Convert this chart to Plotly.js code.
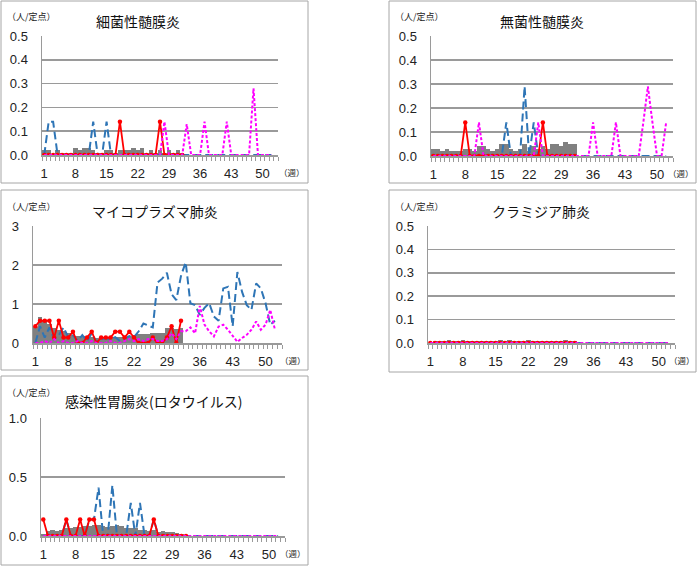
<!DOCTYPE html>
<html>
<head>
<meta charset="utf-8">
<script src="https://cdn.plot.ly/plotly-3.0.1.min.js"></script>
<style>
  html, body { margin: 0; padding: 0; background: #fff; }
  #chart { width: 698px; height: 567px; }
</style>
</head>
<body>
<div id="chart"></div>
<script>
const weeks = [1,2,3,4,5,6,7,8,9,10,11,12,13,14,15,16,17,18,19,20,21,22,23,24,25,26,
  27,28,29,30,31,32,33,34,35,36,37,38,39,40,41,42,43,44,45,46,47,48,49,50,51,52];
const xTicks = [1, 8, 15, 22, 29, 36, 43, 50];

// 細菌性髄膜炎
const bactBars = [0.02,0.02,0,0.02,0.01,0.01,0.01,0.03,0.02,0.03,0.03,0.02,0.01,0.01,0.02,0.02,
  0.01,0.02,0.02,0.02,0.03,0.02,0.03,0.01,0.02,0.01,0.02,0.01,0.02,0.01,0.02,0.01];
const bactRed = [0,0,0,0,0,0,0,0,0,0,0,0,0,0,0,0,0,0.14,0,0,0,0,0,0,0,0,0.14,0,0,0,0,0];
const bactBlue = [0,0.14,0.14,0,0,0,0,0,0,0,0,0.14,0,0,0.14,0,0,0,0,0,0,0,0,0,0,0,
  0,0,0,0,0,0,0,0,0,0,0,0,0,0,0,0,0,0,0,0,0,0,0,0,0,0];
const bactPink = [0,0,0,0,0,0,0,0,0,0,0,0,0,0,0,0,0,0,0,0,0,0,0,0,0,0,
  0,0.14,0,0,0,0,0.13,0,0,0,0.14,0,0,0,0,0.14,0,0,0,0,0,0.28,0,0,0,0];

// 無菌性髄膜炎
const asepBars = [0.03,0.03,0.02,0.03,0.02,0.02,0.02,0.03,0.03,0.02,0.04,0.04,0.03,0.02,0.03,0.05,
  0.05,0.03,0.02,0.03,0.05,0.02,0.04,0.03,0.04,0.03,0.05,0.05,0.04,0.06,0.05,0.05];
const asepRed = [0,0,0,0,0,0,0,0.14,0,0,0,0,0,0,0,0,0,0,0,0,0,0,0,0,0.14,0,0,0,0,0,0,0];
const asepBlue = [0,0,0,0,0,0,0,0,0,0,0,0,0,0,0,0,0.14,0,0,0,0.29,0,0.14,0,0,0,
  0,0,0,0,0,0,0,0,0,0,0,0,0,0,0,0,0,0,0,0,0,0,0,0,0,0];
const asepPink = [0,0,0,0,0,0,0,0,0,0,0.14,0,0,0,0,0,0,0,0,0,0,0,0,0.14,0,0,
  0,0,0,0,0,0,0,0,0,0.14,0,0,0,0,0.14,0,0,0,0,0,0.14,0.29,0.14,0,0,0.14];

// マイコプラズマ肺炎
const mycoBars = [0.42,0.66,0.6,0.5,0.38,0.34,0.3,0.25,0.21,0.17,0.19,0.15,0.15,0.13,0.15,0.15,
  0.15,0.16,0.15,0.15,0.19,0.21,0.22,0.22,0.22,0.26,0.26,0.26,0.38,0.38,0.36,0.39];
const mycoRed = [0.43,0.57,0.57,0.57,0.14,0.57,0.14,0.14,0.29,0,0,0.14,0.29,0,0.14,0.14,
  0.14,0.29,0.29,0.14,0.29,0.14,0,0,0,0.14,0,0,0.14,0.43,0,0.57];
const mycoBlue = [0,0.43,0.14,0.4,0.1,0.2,0.4,0.15,0.2,0.05,0.2,0.05,0.25,0.03,0.1,0.12,
  0.1,0.15,0.05,0.1,0.18,0.15,0.3,0.5,0.45,0.4,1.55,1.65,1.8,1.25,1.1,1.72,2.07,1.02,0.97,0.72,
  0.9,1.02,0.68,0.57,1.4,1.44,0.43,1.82,1.31,0.97,0.85,1.53,1.4,1.02,0.47,0.57];
const mycoPink = [0,0,0.05,0,0.1,0,0.05,0,0,0.05,0,0,0.05,0,0,0,0.05,0,0,0.05,0.1,0.05,0.1,0.05,
  0.1,0.1,0.05,0.05,0.1,0.25,0.1,0.3,0.3,0.4,0.25,0.95,0.47,0.3,0.17,0.42,0.47,0.34,0.17,0.03,
  0.13,0.21,0.34,0.55,0.34,0.47,0.85,0.34];

// クラミジア肺炎
const chlaBars = [0,0.007,0.007,0.007,0.013,0.007,0.007,0.013,0.007,0.007,0.007,0.007,0.007,0.007,
  0.007,0.013,0.007,0.013,0.007,0.007,0.007,0.013,0.007,0.007,0.007,0.007,0.007,0.007,0.007,0.013,
  0.007,0.007];
const chlaRed = [0,0,0,0,0,0,0,0,0,0,0,0,0,0,0,0,0,0,0,0,0,0,0,0,0,0,0,0,0,0,0,0];
const chlaBlue = [0,0,0,0,0,0,0,0,0,0,0,0,0,0,0,0,0,0,0,0,0,0,0,0,0,0,
  0,0,0,0,0,0,0,0,0,0,0,0,0,0,0,0,0,0,0,0,0,0,0,0,0,0];
const chlaPink = [0,0,0,0,0,0,0,0,0,0,0,0,0,0,0,0,0,0,0,0,0,0,0,0,0,0,
  0,0,0,0,0,0,0,0,0,0,0,0,0,0,0,0,0,0,0,0,0,0,0,0,0,0];

// 感染性胃腸炎(ロタウイルス)
const rotaBars = [0.015,0.04,0.05,0.04,0.055,0.065,0.07,0.08,0.08,0.085,0.085,0.09,0.095,0.085,
  0.08,0.085,0.095,0.085,0.07,0.07,0.065,0.055,0.05,0.045,0.05,0.035,0.045,0.03,0.03,0.025,
  0.02,0.01];
const rotaRed = [0.14,0,0,0,0,0.14,0,0,0.14,0,0.14,0.14,0,0,0,0,0,0,0,0,0,0,0,0,0.14,0,0,0,0,0,0,0];
const rotaBlue = [0,0,0,0,0,0.14,0,0,0,0,0.14,0.14,0.41,0,0,0.43,0,0,0,0.28,0,0.28,0,0,0.14,0,
  0,0,0,0,0,0,0,0,0,0,0,0,0,0,0,0,0,0,0,0,0,0,0,0,0,0];
const rotaPink = [0,0,0,0,0,0,0,0,0,0,0,0,0,0,0,0,0,0,0,0,0,0,0,0,0,0,
  0,0,0,0,0,0,0,0,0,0,0,0,0,0,0,0,0,0,0,0,0,0,0,0,0,0];

const W = 698, H = 567;
const px = (v) => v / W;
const py = (v) => 1 - v / H;

const panels = [
  { title: "細菌性髄膜炎", bars: bactBars, red: bactRed, blue: bactBlue, pink: bactPink,
    x: [42, 278], y: [36, 155], ymax: 0.5, dtick: 0.1, fmt: ".1f",
    box: [1, 1, 308, 183], tx: 138, ty: 21, wx: 292 },
  { title: "無菌性髄膜炎", bars: asepBars, red: asepRed, blue: asepBlue, pink: asepPink,
    x: [431, 673], y: [36, 156], ymax: 0.5, dtick: 0.1, fmt: ".1f",
    box: [389, 1, 696, 183], tx: 542, ty: 21, wx: 681 },
  { title: "マイコプラズマ肺炎", bars: mycoBars, red: mycoRed, blue: mycoBlue, pink: mycoPink,
    x: [33, 282], y: [226, 343], ymax: 3, dtick: 1, fmt: "d",
    box: [1, 190, 308, 370], tx: 155, ty: 211, wx: 293 },
  { title: "クラミジア肺炎", bars: chlaBars, red: chlaRed, blue: chlaBlue, pink: chlaPink,
    x: [428, 675], y: [226, 343], ymax: 0.5, dtick: 0.1, fmt: ".1f",
    box: [389, 190, 696, 372], tx: 541, ty: 211, wx: 682 },
  { title: "感染性胃腸炎(ロタウイルス)", bars: rotaBars, red: rotaRed, blue: rotaBlue, pink: rotaPink,
    x: [41, 285], y: [418, 536], ymax: 1.0, dtick: 0.5, fmt: ".1f",
    box: [1, 376, 308, 565], tx: 153, ty: 401, wx: 293 },
];

const numFont = "Liberation Sans, Arial, Noto Sans CJK JP, sans-serif";
const jpFont = "Noto Sans CJK JP, sans-serif";
const grid = "#9a9a9a";

const traces = [];
const layout = {
  width: W, height: H,
  margin: { l: 0, r: 0, t: 0, b: 0 },
  paper_bgcolor: "#fff", plot_bgcolor: "#fff",
  showlegend: false,
  bargap: 0,
  shapes: [],
  annotations: [],
};

panels.forEach((p, i) => {
  const n = i === 0 ? "" : String(i + 1);
  const xa = "x" + n, ya = "y" + n;

  traces.push({
    type: "bar", x: weeks.slice(0, p.bars.length), y: p.bars, xaxis: xa, yaxis: ya,
    width: 1, marker: { color: "#808080", line: { width: 0 } }, hoverinfo: "skip",
  });
  traces.push({
    type: "scatter", mode: "lines", x: weeks, y: p.blue, xaxis: xa, yaxis: ya,
    line: { color: "#2e75b6", width: 2, dash: "8px,4px" },
  });
  traces.push({
    type: "scatter", mode: "lines+markers", x: weeks.slice(0, p.red.length), y: p.red,
    xaxis: xa, yaxis: ya,
    line: { color: "#ff0000", width: 1.8 },
    marker: { color: "#ff0000", size: 4.5 },
  });
  traces.push({
    type: "scatter", mode: "lines", x: weeks, y: p.pink, xaxis: xa, yaxis: ya,
    line: { color: "#ff00ff", width: 2, dash: "3px,2px" },
  });

  layout["xaxis" + n] = {
    domain: [px(p.x[0]), px(p.x[1])],
    anchor: ya,
    range: [0.5, 53.5],
    tickmode: "array", tickvals: xTicks,
    ticks: "", ticklabelstandoff: 6,
    tickfont: { family: numFont, size: 13, color: "#222" },
    showgrid: false, zeroline: false,
    showline: true, linecolor: grid, linewidth: 1.5,
    minor: { tickmode: "linear", tick0: 0.5, dtick: 1, ticks: "outside", ticklen: 4,
      tickcolor: grid, tickwidth: 1, showgrid: false },
    fixedrange: true,
  };
  layout["yaxis" + n] = {
    domain: [py(p.y[1]), py(p.y[0])],
    anchor: xa,
    range: [0, p.ymax],
    dtick: p.dtick, tick0: 0, tickformat: p.fmt,
    ticks: "", ticklabelstandoff: 10,
    tickfont: { family: numFont, size: 13, color: "#222" },
    showgrid: true, gridcolor: grid, gridwidth: 1.6,
    zeroline: false,
    showline: true, linecolor: grid, linewidth: 1.5,
    fixedrange: true,
  };

  layout.shapes.push({
    type: "rect", xref: "paper", yref: "paper",
    x0: px(p.box[0]), x1: px(p.box[2]), y0: py(p.box[3]), y1: py(p.box[1]),
    line: { color: "#a6a6a6", width: 1 }, fillcolor: "rgba(0,0,0,0)", layer: "below",
  });

  layout.annotations.push({
    xref: "paper", yref: "paper", x: px(p.tx), y: py(p.ty),
    xanchor: "center", yanchor: "middle", showarrow: false,
    text: p.title, font: { family: jpFont, size: 14, color: "#111" },
  });
  layout.annotations.push({
    xref: "paper", yref: "paper", x: px(p.box[0] + 4), y: py(p.box[1] + 16),
    xanchor: "left", yanchor: "middle", showarrow: false,
    text: "（人/定点）", font: { family: jpFont, size: 9, color: "#222" },
  });
  layout.annotations.push({
    xref: "paper", yref: "paper", x: px(p.wx), y: py(p.y[1] + 17),
    xanchor: "center", yanchor: "middle", showarrow: false,
    text: "（週）", font: { family: jpFont, size: 8.5, color: "#222" },
  });
});

Plotly.newPlot("chart", traces, layout, { staticPlot: true });
</script>
</body>
</html>
